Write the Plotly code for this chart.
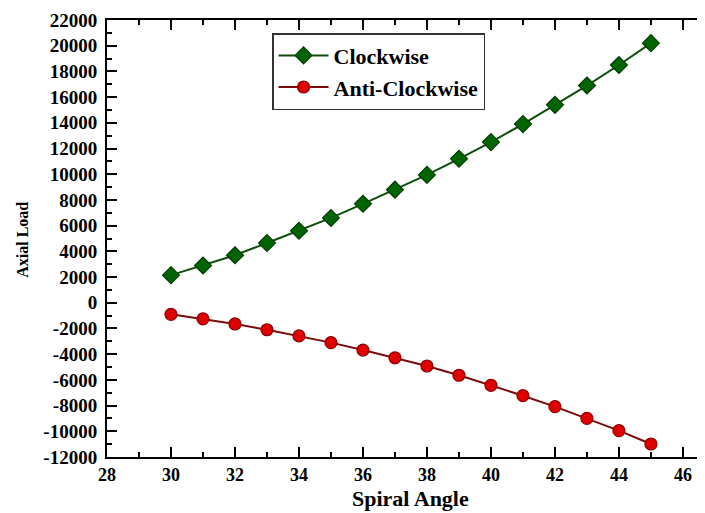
import plotly.graph_objects as go

angles = [30, 31, 32, 33, 34, 35, 36, 37, 38, 39, 40, 41, 42, 43, 44, 45]
clockwise = [2150, 2900, 3700, 4650, 5600, 6600, 7700, 8800, 9950, 11200, 12500, 13900, 15400, 16900, 18500, 20200]
anti_clockwise = [-900, -1250, -1650, -2100, -2580, -3100, -3680, -4280, -4920, -5640, -6420, -7230, -8080, -8990, -9950, -10990]

x_ticks = [28, 30, 32, 34, 36, 38, 40, 42, 44, 46]
y_ticks = list(range(-12000, 22001, 2000))

FONT = "Liberation Serif"

fig = go.Figure()
fig.add_trace(go.Scatter(
    x=angles, y=clockwise, name="<b>Clockwise</b>", mode="lines+markers",
    line=dict(color="#0b4d0b", width=2),
    marker=dict(symbol="diamond", size=13, color="#006400", line=dict(color="#013a01", width=1.2)),
))
fig.add_trace(go.Scatter(
    x=angles, y=anti_clockwise, name="<b>Anti-Clockwise</b>", mode="lines+markers",
    line=dict(color="#7a0c0c", width=2),
    marker=dict(symbol="circle", size=12, color="#e00000", line=dict(color="#8b0000", width=1.2)),
))

# page body has an 8px default margin, so the figure is sized to the visible area
fig.update_layout(
    width=697, height=505,
    margin=dict(l=99, r=0, t=12, b=56, autoexpand=False),
    paper_bgcolor="white", plot_bgcolor="white",
    font=dict(family=FONT, color="black", size=15),
    showlegend=True,
    legend=dict(
        x=0.276, y=0.97, xanchor="left", yanchor="top",
        bordercolor="#333333", borderwidth=1.5, bgcolor="white",
        font=dict(family=FONT, size=22, color="black"),
        tracegroupgap=0, itemwidth=50,
    ),
)

fig.update_xaxes(
    range=[28, 46.69], tickvals=x_ticks, ticktext=[f"<b>{v}</b>" for v in x_ticks],
    showgrid=False, zeroline=False, showline=True, linecolor="black", linewidth=2,
    ticks="inside", ticklen=10, tickwidth=2, tickcolor="black", mirror="ticks",
    minor=dict(ticks="inside", ticklen=5, tickwidth=2, tickcolor="black", dtick=1, tick0=28, showgrid=False),
    tickfont=dict(family=FONT, size=18, color="black"), automargin=False,
)
fig.update_yaxes(
    range=[-12000, 22000], tickvals=y_ticks, ticktext=[f"<b>{v}</b>" for v in y_ticks],
    showgrid=False, zeroline=False, showline=True, linecolor="black", linewidth=2,
    ticks="inside", ticklen=10, tickwidth=2, tickcolor="black",
    minor=dict(ticks="inside", ticklen=5, tickwidth=2, tickcolor="black", dtick=1000, tick0=0, showgrid=False),
    tickfont=dict(family=FONT, size=19, color="black"), automargin=False,
    ticklabelstandoff=4,
)

fig.add_annotation(
    text="<b>Axial Load</b>", xref="paper", yref="paper", x=-0.1405, y=0.497,
    showarrow=False, textangle=-90, font=dict(family=FONT, size=16, color="black"),
    xanchor="center", yanchor="middle",
)
fig.add_annotation(
    text="<b>Spiral Angle</b>", xref="paper", yref="paper", x=0.5067, y=-0.128,
    showarrow=False, font=dict(family=FONT, size=22, color="black"),
    xanchor="center", yanchor="bottom",
)

fig.write_html("out.html")
